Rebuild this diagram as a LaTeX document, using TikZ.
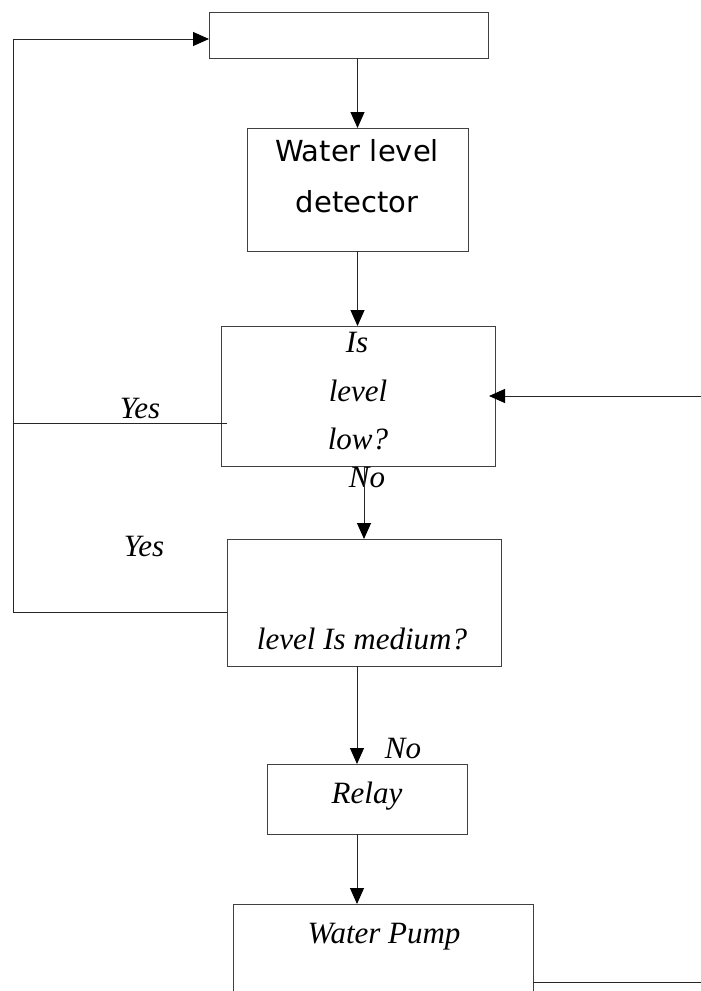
\documentclass[tikz,border=0pt]{standalone}
\usepackage{fontspec}
\setmainfont{Liberation Serif}
\newfontfamily\detfont{DejaVu Sans}
\usetikzlibrary{arrows.meta,calc}
\begin{document}
\begin{tikzpicture}[x=1pt,y=-1pt,
  box/.style={draw=black!75,line width=1pt,anchor=north west,inner sep=0pt,outer sep=0pt},
  lbl/.style={anchor=base,inner sep=0pt,font=\fontsize{31}{31}\selectfont\itshape},
  dlbl/.style={anchor=base,inner sep=0pt,font=\detfont\fontsize{29}{29}\selectfont},
  conn/.style={draw=black!85,line width=1pt},
  arr/.style={conn,-{Triangle[length=16pt,width=14pt,color=black]}}]
\useasboundingbox (0,0) rectangle (701,991);
\clip (0,0) rectangle (701,991);

% boxes
\node[box,minimum width=279pt,minimum height=46pt] (top) at (209,12) {};
\node[box,minimum width=221pt,minimum height=123pt] (det) at (247,128) {};
\node[box,minimum width=274pt,minimum height=140pt] (dec1) at (221,326) {};
\node[box,minimum width=274pt,minimum height=127pt] (dec2) at (227,539) {};
\node[box,minimum width=200pt,minimum height=70pt] (relay) at (267,764) {};
\node[box,minimum width=300pt,minimum height=130pt] (pump) at (233,904) {};

% texts
\node[dlbl] (t1) at (357,161) {Water level};
\node[dlbl] (t2) at (357,212) {detector};
\node[lbl] (is) at (357,352) {Is};
\node[lbl] (lv) at (358,401) {level};
\node[lbl] (low) at (358,449) {low?};
\node[lbl] (no1) at (367,487) {No};
\node[lbl] (yes1) at (140,418) {Yes};
\node[lbl] (yes2) at (144,556) {Yes};
\node[lbl] (med) at (362,649) {level Is medium?};
\node[lbl] (no2) at (403,758) {No};
\node[lbl] (rl) at (367,803) {Relay};
\node[lbl] (wp) at (384,943) {Water Pump};

% helper coordinates
\coordinate (rt) at ([xshift=-10pt]relay.north);
\coordinate (c1) at (227,423);
\coordinate (c2) at (227,612);
\coordinate (cl) at (13,39);
\coordinate (p) at (533,982);
\coordinate (rx) at (720,0);
\coordinate (tip) at ([xshift=-6pt]dec1.east);

% connectors
\draw[arr] (top.south -| det.north) -- (det.north);
\draw[arr] (det.south) -- (dec1.north -| det.south);
\draw[arr] (dec1.south -| dec2.north) -- (dec2.north);
\draw[arr] (rt |- dec2.south) -- (rt);
\draw[arr] (relay.south -| rt) -- (pump.north -| rt);
\draw[arr] (c1) -- (c1 -| cl) -- (cl) -- (top.west |- cl);
\draw[conn] (c2) -- (c2 -| cl) -- (c1 -| cl);
\draw[arr] (p) -- (p -| rx) -- (rx |- tip) -- (tip);
\end{tikzpicture}
\end{document}
